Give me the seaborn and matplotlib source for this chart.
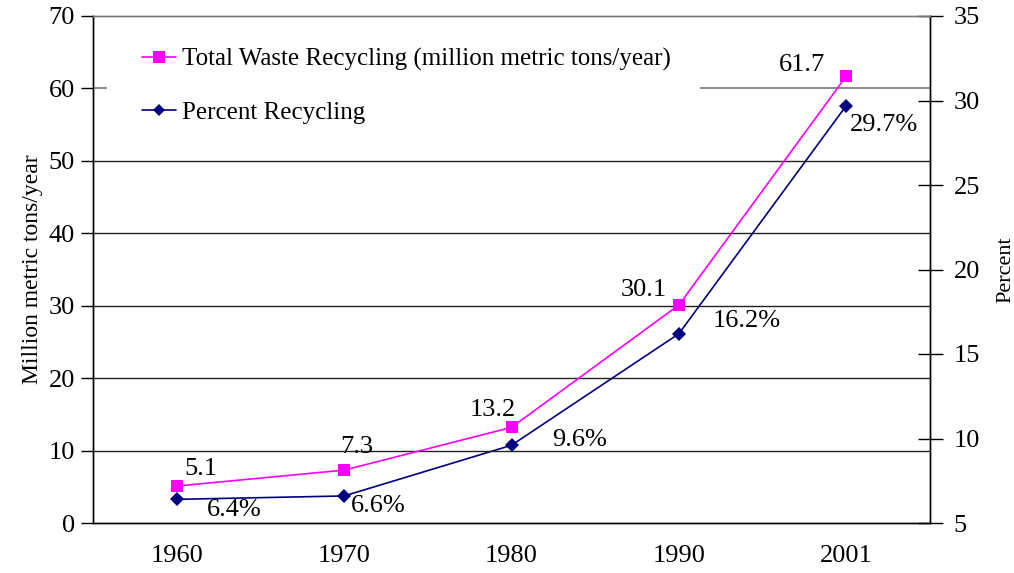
import matplotlib
matplotlib.use("Agg")
import matplotlib.pyplot as plt
from matplotlib.lines import Line2D
from matplotlib.patches import Rectangle
import numpy as np
import pandas as pd
import seaborn as sns

years = ["1960", "1970", "1980", "1990", "2001"]
total_recycling = [5.1, 7.3, 13.2, 30.1, 61.7]
percent_recycling = [6.4, 6.6, 9.6, 16.2, 29.7]

# label offsets in pixels (dx, dy) for each data label
total_offsets = [(24, 17), (13, 23), (-19, 17), (-35, 15), (-44, 11)]
percent_offsets = [(58, -11), (34, -10), (68, 5), (68, 13), (38, -19)]

sns.set_theme(style="white")
plt.rcParams["font.family"] = ["Liberation Serif", "DejaVu Serif"]
plt.rcParams["text.color"] = "black"
plt.rcParams["axes.labelcolor"] = "black"

W, H = 1014, 573
L, R, T, B = 93, 930, 16, 523
fig = plt.figure(figsize=(W / 100, H / 100), dpi=100)
ax = fig.add_axes([L / W, 1 - B / H, (R - L) / W, (B - T) / H])
ax2 = ax.twinx()

df = pd.DataFrame({"pos": np.arange(len(years)),
                   "total": total_recycling,
                   "percent": percent_recycling})

sns.lineplot(data=df, x="pos", y="total", ax=ax, color="#ff00ff", lw=1.2,
             marker="s", markersize=9, markeredgewidth=0, zorder=5)
sns.lineplot(data=df, x="pos", y="percent", ax=ax2, color="#000080", lw=1.2,
             marker="D", markersize=7, markeredgewidth=0, zorder=5)

ax.set_xlim(-0.5, len(years) - 0.5)
ax.set_ylim(0, 70)
ax2.set_ylim(5, 35)
ax.set_yticks(range(0, 71, 10))
ax2.set_yticks(range(5, 36, 5))
ax.set_xticks(np.arange(len(years)))
ax.set_xticklabels(years)
ax.set_xticks(np.arange(-0.5, len(years)), minor=True)
ax.tick_params(axis="x", which="major", length=0, pad=16, labelsize=19, colors="black")
ax.tick_params(axis="x", which="minor", length=9, width=1, direction="out", color="black")
ax.tick_params(axis="y", length=9, width=1, direction="out", labelsize=19, colors="black", pad=4)
ax2.tick_params(axis="y", length=18, width=1, direction="inout", labelsize=19, colors="black", pad=8)
ax.set_xlabel("")

# horizontal gridlines
for v in range(10, 60, 10):
    ax.axhline(v, color="#222222", lw=1, zorder=1)
ax.axhline(60, color="#777777", lw=1.2, zorder=1)

for a in (ax, ax2):
    for s in a.spines.values():
        s.set_visible(True)
        s.set_color("black")
        s.set_linewidth(1)
    a.spines["top"].set_color("#777777")
ax.set_ylabel("Million metric tons/year", fontsize=17, labelpad=4, color="black")
ax2.set_ylabel("Percent", fontsize=16, rotation=90, labelpad=12, color="black")

for i, (v, (dx, dy)) in enumerate(zip(total_recycling, total_offsets)):
    ax.annotate(f"{v:.1f}", (i, v), xytext=(dx, dy), textcoords="offset pixels",
                ha="center", va="center", fontsize=19, color="black", zorder=6)
for i, (v, (dx, dy)) in enumerate(zip(percent_recycling, percent_offsets)):
    ax2.annotate(f"{v:.1f}%", (i, v), xytext=(dx, dy), textcoords="offset pixels",
                 ha="center", va="center", fontsize=19, color="black", zorder=6)

# white legend area covering the gridline behind it
ax.add_patch(Rectangle(((107 - L) / (R - L), (B - 140) / (B - T)),
                       (700 - 107) / (R - L), (140 - 30) / (B - T),
                       transform=ax.transAxes, facecolor="white", edgecolor="none",
                       zorder=1.5))

handles = [
    Line2D([], [], color="#ff00ff", lw=1.2, marker="s", markersize=8, markeredgewidth=0),
    Line2D([], [], color="#000080", lw=1.2, marker="D", markersize=6, markeredgewidth=0),
]
leg = ax.legend(handles, ["Total Waste Recycling (million metric tons/year)", "Percent Recycling"],
                loc="upper left", bbox_to_anchor=((142 - L) / (R - L), 1 - 32 / (B - T)),
                frameon=False, fontsize=18, handlelength=1.35, handletextpad=0.25,
                labelspacing=1.22, borderpad=0, borderaxespad=0, labelcolor="black")
leg.set_zorder(4)
ax.set_zorder(ax2.get_zorder() + 1)
ax.patch.set_visible(False)
ax2.patch.set_facecolor("white")

fig.savefig("out.png", dpi=100, facecolor="white")
